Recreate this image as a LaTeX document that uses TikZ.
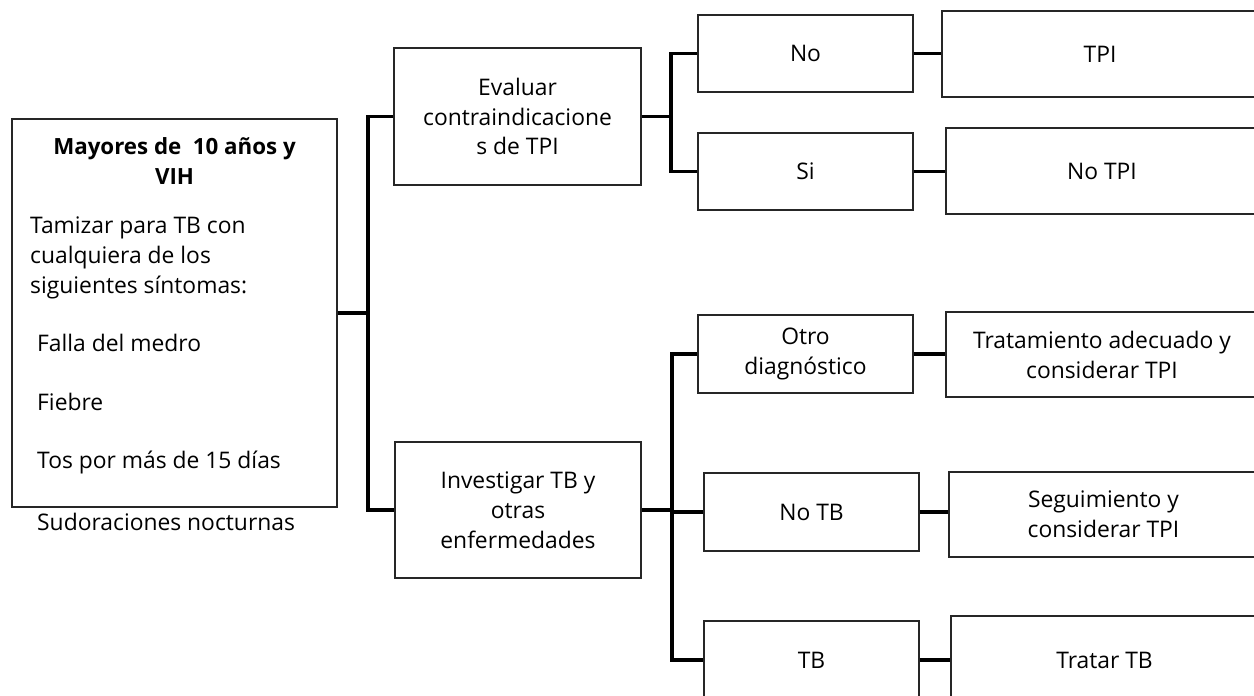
\documentclass[tikz,border=0pt]{standalone}
\usepackage{fontspec}
\setmainfont{Open Sans}
\usepackage{tikz}

\tikzset{
  box/.style={draw=black!85, line width=0.75pt, align=center, inner sep=0pt},
  conn/.style={line width=2pt},
}

\begin{document}
\begin{tikzpicture}[x=0.02cm,y=-0.02cm,font=\fontsize{13}{17}\selectfont]

\useasboundingbox (0,0) rectangle (1254,696);
\clip (0,0) rectangle (1254,696);

% left box with the screening
\node[box, minimum width=6.5cm, minimum height=7.76cm] (main) at (174.5,313) {};
\node[font=\fontsize{12.7}{17}\bfseries, align=center] (title) at (174.5,161) {Mayores de\ \ 10 años y\\VIH};
\node[anchor=west, align=left] (tamizar) at (24,257.5) {Tamizar para TB con\\cualquiera de los\\siguientes síntomas:};
\node[anchor=west] (falla) at (31,343) {Falla del medro};
\node[anchor=west] (fiebre) at (31,402) {Fiebre};
\node[anchor=west] (tos) at (31,462) {Tos por más de 15 días};
\node[anchor=west] (sudor) at (31,522) {Sudoraciones nocturnas};

% second column
\node[box, minimum width=4.94cm, minimum height=2.74cm] (eval) at (517.5,116.5) {Evaluar\\contraindicacione\\s de TPI};
\node[box, minimum width=4.92cm, minimum height=2.72cm] (inv) at (518,510) {Investigar TB y\\otras\\enfermedades};

% third column
\node[box, minimum width=4.3cm, minimum height=1.54cm] (no) at (805.5,53.5) {No};
\node[box, minimum width=4.3cm, minimum height=1.54cm] (si) at (805.5,171.5) {Si};
\node[box, minimum width=4.3cm, minimum height=1.56cm] (otro) at (805.5,354) {Otro\\diagnóstico};
\node[box, minimum width=4.3cm, minimum height=1.56cm] (notb) at (811.5,512) {No TB};
\node[box, minimum width=4.3cm, minimum height=1.56cm] (tb) at (811.5,660) {TB};

% last column
\node[box, minimum width=6.32cm, minimum height=1.72cm] (tpi) at (1100,54) {TPI};
\node[box, minimum width=6.24cm, minimum height=1.72cm] (notpi) at (1102,171) {No TPI};
\node[box, minimum width=6.24cm, minimum height=1.7cm] (trat) at (1102,354.5) {Tratamiento adecuado y\\considerar TPI};
\node[box, minimum width=6.18cm, minimum height=1.7cm] (seg) at (1103.5,514.5) {Seguimiento y\\considerar TPI};
\node[box, minimum width=6.14cm, minimum height=1.76cm] (tratartb) at (1104.5,660) {Tratar TB};

% brackets
\coordinate (j1) at (368,313);
\coordinate (j2) at (671,116.5);
\coordinate (j3) at (672,510);

\draw[conn] (main.east) -- (j1);
\draw[conn] (eval.west) -| (j1);
\draw[conn] (inv.west) -| (j1);

\draw[conn] (eval.east) -- (j2);
\draw[conn] (no.west) -| (j2);
\draw[conn] (si.west) -| (j2);

\draw[conn] (inv.east) -- (j3);
\draw[conn] (otro.west) -| (j3);
\draw[conn] (notb.west) -| (j3);
\draw[conn] (tb.west) -| (j3);

% links to the last column
\draw[conn] (no.east) -- (no.east -| tpi.west);
\draw[conn] (si.east) -- (si.east -| notpi.west);
\draw[conn] (otro.east) -- (otro.east -| trat.west);
\draw[conn] (notb.east) -- (notb.east -| seg.west);
\draw[conn] (tb.east) -- (tb.east -| tratartb.west);

\end{tikzpicture}
\end{document}
